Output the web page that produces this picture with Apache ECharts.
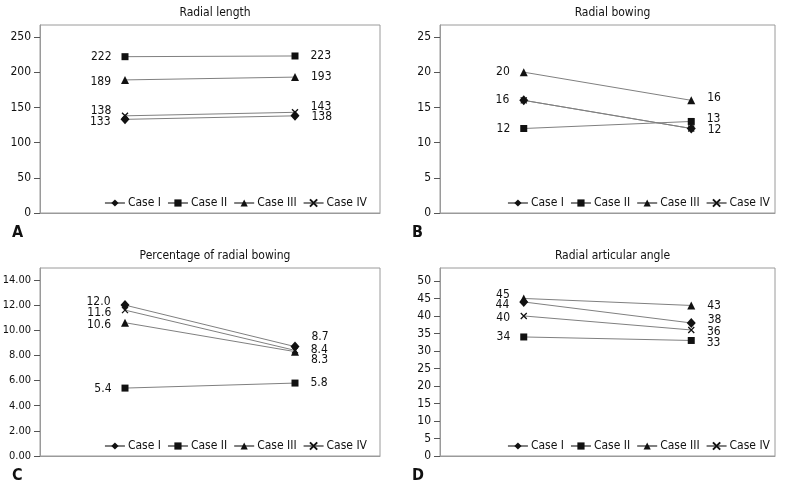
<!DOCTYPE html>
<html>
<head>
<meta charset="utf-8">
<script src="https://cdn.jsdelivr.net/npm/echarts@6/dist/echarts.min.js"></script>
<style>
  html, body { margin: 0; padding: 0; background: #fff; }
  #main { width: 790px; height: 486px; }
</style>
</head>
<body>
<div id="main"></div>
<script>
// before / after, one line per case
var categories = ['Before', 'After'];
var caseNames = ['Case I', 'Case II', 'Case III', 'Case IV'];

var radialLength = [[133, 138], [222, 223], [189, 193], [138, 143]];
var radialBowing = [[16, 12], [12, 13], [20, 16], [16, 12]];
var pctRadialBowing = [[12.0, 8.7], [5.4, 5.8], [10.6, 8.3], [11.6, 8.4]];
var articularAngle = [[44, 38], [34, 33], [45, 43], [40, 36]];

var ticksA = [0, 50, 100, 150, 200, 250];
var ticksB = [0, 5, 10, 15, 20, 25];
var ticksC = [0, 2, 4, 6, 8, 10, 12, 14];
var ticksD = [0, 5, 10, 15, 20, 25, 30, 35, 40, 45, 50];

var FONT = "'Liberation Sans Narrow', 'DejaVu Sans Condensed', 'Liberation Sans', sans-serif";

var panels = [
  { title: 'Radial length', letter: 'A', data: radialLength, ticks: ticksA, max: 267, dec: 0, tickFont: 12,
    grid: { left: 40, top: 25, width: 340, height: 188 },
    dy: [[3, 1], [0, 0], [2, 0], [-5, -5]], hide: [] },
  { title: 'Radial bowing', letter: 'B', data: radialBowing, ticks: ticksB, max: 26.7, dec: 0, tickFont: 12,
    grid: { left: 440, top: 25, width: 335, height: 188 },
    dy: [[0, 1], [0, -3], [0, -2], [0, 0]], hide: [3] },
  { title: 'Percentage of radial bowing', letter: 'C', data: pctRadialBowing, ticks: ticksC, max: 14.95, dec: 2, tickFont: 11,
    grid: { left: 40, top: 268, width: 340, height: 188 },
    dy: [[-3, -10], [1, 0], [2, 8], [3, 0]], hide: [], labelDec: 1 },
  { title: 'Radial articular angle', letter: 'D', data: articularAngle, ticks: ticksD, max: 53.7, dec: 0, tickFont: 12,
    grid: { left: 440, top: 268, width: 335, height: 188 },
    dy: [[3, -3], [0, 2], [-4, 0], [2, 2]], hide: [] }
];

var symbols = [
  { symbol: 'diamond', size: [9, 10] },
  { symbol: 'rect', size: 7 },
  { symbol: 'triangle', size: 8 },
  { symbol: 'path://M0,0 L10,10 M10,0 L0,10', size: 6 }
];

var option = {
  backgroundColor: '#fff',
  animation: false,
  textStyle: { fontFamily: FONT },
  title: [],
  legend: [],
  grid: [],
  xAxis: [],
  yAxis: [],
  series: [],
  graphic: []
};

panels.forEach(function (p, gi) {
  var g = p.grid;
  option.grid.push({
    left: g.left, top: g.top, width: g.width, height: g.height,
    outerBoundsMode: 'none', containLabel: false,
    show: true, borderColor: '#9a9a9a', borderWidth: 1, backgroundColor: 'transparent'
  });
  option.title.push({
    text: p.title,
    left: g.left + g.width / 2, top: g.top - 23, textAlign: 'center',
    textStyle: { fontFamily: FONT, fontSize: 12, fontWeight: 'normal', color: '#111' }
  });
  option.graphic.push({
    type: 'text', left: g.left - 28, top: g.top + g.height + 12,
    style: { text: p.letter, font: 'bold 16px ' + FONT, fill: '#111' }
  });
  option.xAxis.push({
    type: 'category', gridIndex: gi, data: categories, boundaryGap: true,
    axisLine: { lineStyle: { color: '#9a9a9a' } },
    axisTick: { show: false }, axisLabel: { show: false }, splitLine: { show: false }
  });
  option.yAxis.push({
    type: 'value', gridIndex: gi, min: 0, max: p.max,
    axisLine: { show: true, lineStyle: { color: '#9a9a9a' } },
    axisTick: { show: true, length: 6, lineStyle: { color: '#555' }, customValues: p.ticks },
    axisLabel: {
      customValues: p.ticks, margin: 9, color: '#111', fontSize: p.tickFont, fontFamily: FONT,
      formatter: function (v) { return v.toFixed(p.dec); }
    },
    splitLine: { show: false }
  });
  option.legend.push({
    data: caseNames,
    right: 790 - (g.left + g.width) + (gi % 2 === 0 ? 8 : 0),
    top: g.top + g.height - 21,
    itemWidth: 20, itemHeight: 9, itemGap: 6,
    textStyle: { fontFamily: FONT, fontSize: 12, color: '#111', padding: [0, 0, 0, -2] }
  });
  p.data.forEach(function (vals, si) {
    var showLab = p.hide.indexOf(si) < 0;
    var data = vals.map(function (v, k) {
      return {
        value: v,
        label: {
          show: showLab,
          position: k === 0 ? 'left' : 'right',
          distance: k === 0 ? 10 : 12,
          offset: [0, p.dy[si][k]],
          formatter: function (prm) {
            return p.labelDec ? prm.value.toFixed(p.labelDec) : String(prm.value);
          }
        }
      };
    });
    var sym = symbols[si];
    option.series.push({
      name: caseNames[si], type: 'line',
      xAxisIndex: gi, yAxisIndex: gi,
      data: data,
      symbol: sym.symbol, symbolSize: sym.size, showAllSymbol: true,
      lineStyle: { color: '#808080', width: 1 },
      itemStyle: si === 3
        ? { color: '#111', borderColor: '#111', borderWidth: 1.3 }
        : { color: '#111', borderWidth: 0 },
      label: { color: '#111', fontSize: 12, fontFamily: FONT },
      z: 3 + (3 - si)
    });
  });
});

var chart = echarts.init(document.getElementById('main'));
chart.setOption(option);
</script>
</body>
</html>
